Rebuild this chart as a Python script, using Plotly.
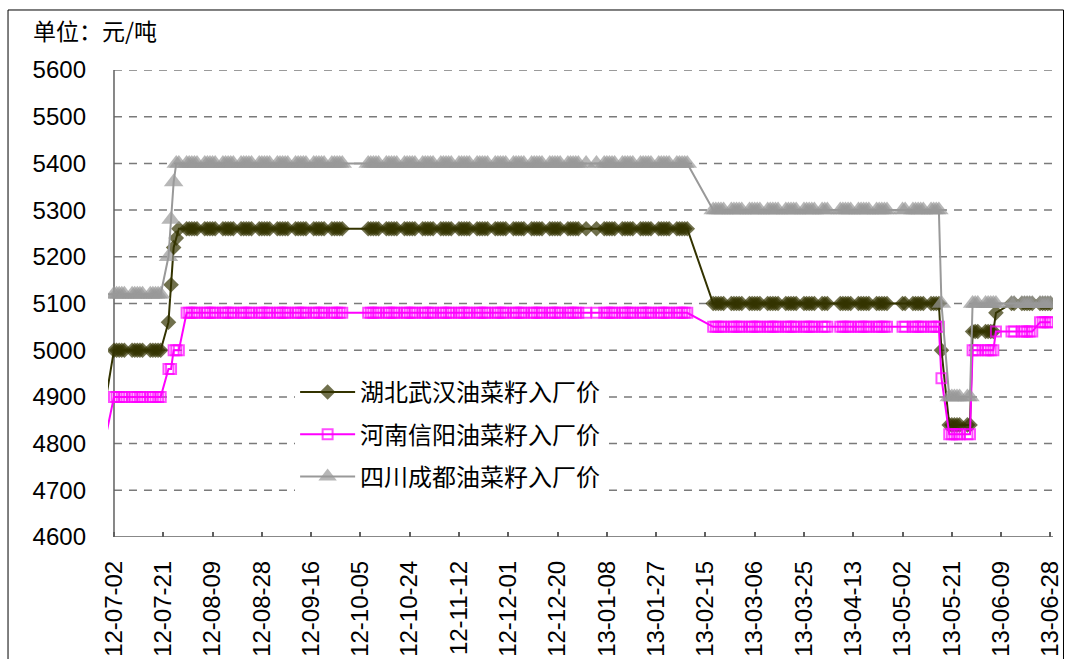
import pandas as pd
import plotly.graph_objects as go

# ---- trading calendar (weekdays, Chinese market holidays removed) ----
first_day = "2012-06-29"
last_day = "2013-06-28"
market_holidays = [
    "2012-10-01", "2012-10-02", "2012-10-03", "2012-10-04", "2012-10-05",
    "2013-01-01", "2013-01-02", "2013-01-03",
    "2013-02-11", "2013-02-12", "2013-02-13", "2013-02-14", "2013-02-15",
    "2013-04-04", "2013-04-05",
    "2013-04-29", "2013-04-30", "2013-05-01",
    "2013-06-10", "2013-06-11", "2013-06-12",
]

# ---- prices (yuan/ton): each value holds from its start date onward ----
hubei_start = ["2012-06-29", "2012-07-02", "2012-07-23", "2012-07-24", "2012-07-25",
               "2012-07-26", "2012-07-27", "2013-02-18", "2013-05-17", "2013-05-20",
               "2013-05-29", "2013-06-07", "2013-06-13"]
hubei_price = [4900, 5000, 5060, 5140, 5220,
               5240, 5260, 5100, 5000, 4840,
               5040, 5080, 5100]

henan_start = ["2012-06-29", "2012-07-02", "2012-07-23", "2012-07-25", "2012-07-30",
               "2013-02-18", "2013-05-17", "2013-05-20", "2013-05-29", "2013-06-07",
               "2013-06-24"]
henan_price = [4820, 4900, 4960, 5000, 5080,
               5050, 4940, 4820, 5000, 5040,
               5060]

sichuan_start = ["2012-06-29", "2012-07-23", "2012-07-24", "2012-07-25", "2012-07-26",
                 "2013-02-18", "2013-05-17", "2013-05-20", "2013-05-29"]
sichuan_price = [5120, 5200, 5280, 5360, 5400,
                 5300, 5100, 4900, 5100]

series_names = ["湖北武汉油菜籽入厂价", "河南信阳油菜籽入厂价", "四川成都油菜籽入厂价"]

# axis
axis_start = "2012-07-02"
axis_end = "2013-06-29"
x_tick_dates = ["2012-07-02", "2012-07-21", "2012-08-09", "2012-08-28", "2012-09-16",
                "2012-10-05", "2012-10-24", "2012-11-12", "2012-12-01", "2012-12-20",
                "2013-01-08", "2013-01-27", "2013-02-15", "2013-03-06", "2013-03-25",
                "2013-04-13", "2013-05-02", "2013-05-21", "2013-06-09", "2013-06-28"]
y_ticks = [4600, 4700, 4800, 4900, 5000, 5100, 5200, 5300, 5400, 5500, 5600]

days = pd.bdate_range(first_day, last_day)
days = days[~days.isin(pd.to_datetime(market_holidays))]


def daily(starts, prices):
    s = pd.Series(prices, index=pd.to_datetime(starts), dtype=float)
    return s.reindex(days, method="ffill")


def marker_sizes(size):
    start = pd.Timestamp(axis_start)
    return [0 if d < start else size for d in days]


NUM_FONT = "Liberation Sans, Arial, sans-serif"
CJK_FONT = "Noto Sans CJK SC, sans-serif"

styles = [
    dict(color="#333300", symbol="diamond", size=12, mline=0),
    dict(color="#FF00FF", symbol="square-open", size=10, mline=2),
    dict(color="#999999", symbol="triangle-up", size=17, mline=0),
]
values = [daily(hubei_start, hubei_price),
          daily(henan_start, henan_price),
          daily(sichuan_start, sichuan_price)]

fig = go.Figure()
for name, vals, st in zip(series_names, values, styles):
    fig.add_trace(go.Scatter(
        x=days, y=vals, mode="lines+markers", name=name,
        legendgroup=name,
        line=dict(color=st["color"], width=2),
        marker=dict(symbol=st["symbol"], size=marker_sizes(st["size"]),
                    color=st["color"],
                    line=dict(width=st["mline"], color=st["color"])),
    ))

# gridlines and axis lines start at the first category date
shapes = []
for v in y_ticks[1:]:
    shapes.append(dict(type="line", xref="x", yref="y", layer="below",
                       x0=axis_start, x1=axis_end, y0=v, y1=v,
                       line=dict(color="#7a7a7a", width=1.5, dash="8px,7px")))
shapes.append(dict(type="line", xref="x", yref="y", layer="below",
                   x0=axis_start, x1=axis_start, y0=y_ticks[0], y1=y_ticks[-1],
                   line=dict(color="#606060", width=1.5)))
shapes.append(dict(type="line", xref="x", yref="y", layer="below",
                   x0=axis_start, x1=axis_end, y0=y_ticks[0], y1=y_ticks[0],
                   line=dict(color="#606060", width=1.5)))
# chart frame
shapes.append(dict(type="rect", xref="paper", yref="paper",
                   x0=-0.1058, x1=1.0111, y0=-0.4, y1=1.1285,
                   line=dict(color="#000000", width=1)))

fig.update_layout(
    width=1068, height=659,
    margin=dict(l=108, r=14.5, t=70, b=122, autoexpand=False),
    paper_bgcolor="white", plot_bgcolor="white",
    shapes=shapes,
    showlegend=True,
    legend=dict(x=0.198, y=0.3576, xanchor="left", yanchor="top",
                bgcolor="white", borderwidth=0,
                font=dict(family=CJK_FONT, size=24, color="black"),
                tracegroupgap=8, itemwidth=55),
    annotations=[dict(text="单位：元/吨", xref="paper", yref="paper",
                      x=-0.0815, y=1.0857, xanchor="left", yanchor="middle",
                      showarrow=False,
                      font=dict(family=CJK_FONT, size=23, color="black"))],
)

fig.update_xaxes(
    type="date", range=["2012-06-29 16:33", axis_end], automargin=False,
    tickmode="array", tickvals=x_tick_dates,
    ticktext=[pd.Timestamp(d).strftime("%y-%m-%d") for d in x_tick_dates],
    tickangle=-90, ticks="inside", ticklen=5, tickwidth=1.5, tickcolor="#606060",
    ticklabelstandoff=18,
    showgrid=False, zeroline=False, showline=False,
    tickfont=dict(family=NUM_FONT, size=24, color="black"),
)
fig.update_yaxes(
    range=[y_ticks[0], y_ticks[-1]], tickmode="array", tickvals=y_ticks,
    automargin=False,
    ticks="", ticklabelstandoff=21,
    showgrid=False, zeroline=False, showline=False,
    tickfont=dict(family=NUM_FONT, size=24, color="black"),
)

fig.write_html("out.html")
